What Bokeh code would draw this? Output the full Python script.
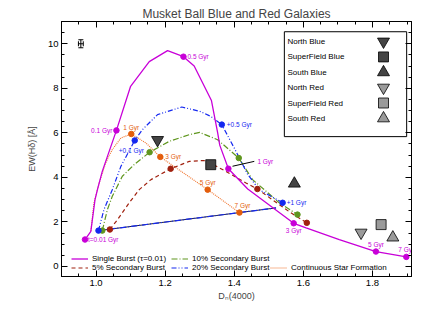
from bokeh.plotting import figure
from bokeh.models import (Range1d, LinearAxis, FixedTicker, Legend, LegendItem,
                          Whisker, ColumnDataSource, TeeHead, NumeralTickFormatter,
                          CustomJSTickFormatter)
from bokeh.core.properties import value
from bokeh.embed import file_html
from bokeh.resources import INLINE

FONT = "Liberation Sans"

# ---------------- data ----------------
# Single burst (tau = 0.01) track
sb_x = [0.968, 0.985, 0.997, 1.004, 1.018, 1.059, 1.100, 1.154, 1.207, 1.253,
        1.284, 1.334, 1.352, 1.358, 1.383, 1.439, 1.572, 1.608, 1.704, 1.810, 1.898]
sb_y = [1.21, 1.58, 3.00, 3.45, 4.27, 6.11, 8.09, 9.20, 9.69, 9.42,
        9.00, 7.45, 6.00, 5.45, 4.39, 3.48, 1.94, 1.73, 1.21, 0.67, 0.43]
sb_mark = [0, 5, 9, 14, 16, 19, 20]
sb_lab = ["t=0.01 Gyr", "0.1 Gyr", "0.5 Gyr", "1 Gyr", "3 Gyr", "5 Gyr", "7 Gyr"]

# 20% secondary burst track
b20_x = [1.007, 1.023, 1.047, 1.072, 1.112, 1.134, 1.178, 1.248, 1.300, 1.332,
         1.364, 1.405, 1.439, 1.472, 1.540]
b20_y = [1.61, 2.56, 3.45, 4.50, 5.66, 6.14, 6.82, 7.16, 6.97, 6.74,
         6.37, 5.17, 4.13, 3.45, 2.86]
b20_mark = [0, 4, 10, 14]
b20_lab = ["", "+0.1 Gyr", "+0.5 Gyr", "+1 Gyr"]

# 10% secondary burst track
b10_x = [1.018, 1.033, 1.047, 1.076, 1.110, 1.155, 1.212, 1.270, 1.300, 1.352,
         1.413, 1.453, 1.492, 1.530, 1.583]
b10_y = [1.61, 2.56, 3.15, 4.05, 4.57, 5.13, 5.62, 5.92, 6.02, 5.69,
         4.87, 3.90, 3.38, 2.86, 2.33]
b10_mark = [0, 5, 10, 14]

# 5% secondary burst track
b5_x = [1.040, 1.062, 1.096, 1.125, 1.159, 1.216, 1.270, 1.300, 1.318, 1.376,
        1.434, 1.467, 1.510, 1.560, 1.610]
b5_y = [1.66, 2.10, 2.86, 3.45, 3.90, 4.39, 4.72, 4.75, 4.75, 4.27,
        3.75, 3.48, 3.00, 2.45, 1.96]
b5_mark = [0, 5, 11, 14]

# Continuous star formation track
csf_x = [0.985, 0.994, 1.009, 1.028, 1.047, 1.072, 1.102, 1.144, 1.186, 1.323, 1.415]
csf_y = [1.60, 2.86, 3.75, 4.65, 5.25, 5.77, 5.95, 5.55, 4.92, 3.45, 2.42]
csf_mark = [6, 8, 9, 10]
csf_lab = ["1 Gyr", "3 Gyr", "5 Gyr", "7 Gyr"]

# straight connecting line (late-time track)
link_x = [1.007, 1.521]
link_y = [1.61, 2.63]

# pointer for the single-burst "1 Gyr" label
ptr_x = [1.395, 1.458]
ptr_y = [4.50, 4.72]

# observed galaxy samples
gal_names = ["North Blue", "SuperField Blue", "South Blue",
             "North Red", "SuperField Red", "South Red"]
gal_x = [1.178, 1.332, 1.574, 1.767, 1.825, 1.859]
gal_y = [5.68, 4.57, 3.72, 1.52, 1.88, 1.30]
gal_marker = ["inverted_triangle", "square", "triangle",
              "inverted_triangle", "square", "triangle"]
gal_color = ["#444444", "#444444", "#444444", "#9a9a9a", "#9a9a9a", "#9a9a9a"]
gal_size = [12, 10, 12, 12, 10, 12]

# typical error bar
err_x = [0.956]
err_y = [10.0]
err_dx = [0.007]
err_dy = [0.18]

x_ticks = [1.0, 1.2, 1.4, 1.6, 1.8]
y_ticks = [0, 2, 4, 6, 8, 10]

# ---------------- styling ----------------
C_SB = "#c800d8"
C_B20 = "#1428f0"
C_B10 = "#5f961e"
C_B5 = "#a0200e"
C_CSF = "#f07028"
C_CSF_PT = "#e35d0c"

p = figure(width=417, height=318, output_backend="svg", toolbar_location=None,
           x_range=Range1d(0.9, 1.913), y_range=Range1d(-0.45, 11.0),
           min_border_left=61, min_border_right=6, min_border_top=21,
           min_border_bottom=42)
p.xgrid.visible = False
p.ygrid.visible = False
p.outline_line_color = "black"
p.outline_line_width = 1
p.background_fill_color = "white"
p.border_fill_color = "white"

p.title.text = "Musket Ball Blue and Red Galaxies"
p.title.align = "center"
p.title.text_font = FONT
p.title.text_font_size = "12px"
p.title.text_font_style = "normal"
p.title.standoff = 2

xt = FixedTicker(ticks=x_ticks, minor_ticks=[0.9 + 0.05 * i for i in range(21)])
yt = FixedTicker(ticks=y_ticks, minor_ticks=[-0.5 + 0.5 * i for i in range(24)])


def style_axis(ax, ticker, show_labels):
    ax.ticker = ticker
    ax.major_tick_in = 6
    ax.major_tick_out = 0
    ax.minor_tick_in = 3
    ax.minor_tick_out = 0
    ax.axis_line_color = "black"
    ax.major_tick_line_color = "black"
    ax.minor_tick_line_color = "black"
    ax.major_label_text_font = FONT
    ax.major_label_text_color = "black"
    ax.major_label_text_font_size = "9.5px"
    if show_labels:
        ax.major_label_standoff = 3
    else:
        ax.formatter = CustomJSTickFormatter(code="return ''")
        ax.major_label_standoff = 0


xa = p.xaxis[0]
ya = p.yaxis[0]
style_axis(xa, xt, True)
style_axis(ya, yt, True)
xa.formatter = NumeralTickFormatter(format="0.0")
xa.axis_label = "D\u2099(4000)"
ya.axis_label = "EW(H\u03b4) [\u00c5]"
for ax in (xa, ya):
    ax.axis_label_text_font = FONT
    ax.axis_label_text_font_size = "9px"
    ax.axis_label_text_font_style = "normal"
xa.axis_label_standoff = 2
ya.axis_label_standoff = 8

top_ax = LinearAxis()
right_ax = LinearAxis()
style_axis(top_ax, xt, False)
style_axis(right_ax, yt, False)
p.add_layout(top_ax, "above")
p.add_layout(right_ax, "right")

# ---------------- model tracks ----------------
r_link_k = p.line(link_x, link_y, line_color="#202040", line_width=1)
r_link = p.line(link_x, link_y, line_color=C_B20, line_width=1.2, line_dash="6 2 1 2")

r_csf = p.line(csf_x, csf_y, line_color=C_CSF, line_width=1.1, line_dash="1 1")
r_b5 = p.line(b5_x, b5_y, line_color=C_B5, line_width=1.2, line_dash="4 3")
r_b10 = p.line(b10_x, b10_y, line_color=C_B10, line_width=1.2, line_dash="6 2 1 2")
r_b20 = p.line(b20_x, b20_y, line_color=C_B20, line_width=1.2, line_dash="5 2 1 2 1 2")
r_sb = p.line(sb_x, sb_y, line_color=C_SB, line_width=1.3)

p.line(ptr_x, ptr_y, line_color="black", line_width=1)


def pts(xs, ys, idx):
    return [xs[i] for i in idx], [ys[i] for i in idx]


for xs, ys, idx, col in [(csf_x, csf_y, csf_mark, C_CSF_PT),
                         (b5_x, b5_y, b5_mark, C_B5),
                         (b10_x, b10_y, b10_mark, C_B10),
                         (b20_x, b20_y, b20_mark, C_B20),
                         (sb_x, sb_y, sb_mark, C_SB)]:
    px, py = pts(xs, ys, idx)
    p.scatter(px, py, size=5.5, marker="circle", fill_color=col, line_color=col)


# age labels
def add_labels(xs, ys, idx, labels, dx, dy, align, color):
    px, py = pts(xs, ys, idx)
    keep = [k for k in range(len(labels)) if labels[k]]
    src = ColumnDataSource(dict(x=[px[k] for k in keep], y=[py[k] for k in keep],
                                t=[labels[k] for k in keep], dx=[dx[k] for k in keep],
                                dy=[dy[k] for k in keep], a=[align[k] for k in keep]))
    p.text(x="x", y="y", text="t", x_offset="dx", y_offset="dy", text_align="a",
           source=src, text_baseline="middle", text_color=color,
           text_font=value(FONT), text_font_size="6.5px")


add_labels(sb_x, sb_y, sb_mark, sb_lab,
           [3, -4, 4, 29, 0, 0, 0], [0, 0, 0, -7, 7, -7, -7],
           ["left", "right", "left", "left", "center", "center", "center"], C_SB)
add_labels(b20_x, b20_y, b20_mark, b20_lab,
           [0, -16, 5, 4], [0, 10, 0, 0], ["left", "left", "left", "left"], C_B20)
add_labels(csf_x, csf_y, csf_mark, csf_lab,
           [0, 5, 0, 3], [-6, 0, -7, -7], ["center", "left", "center", "center"], C_CSF_PT)

# ---------------- observed galaxies ----------------
for i in range(len(gal_names)):
    p.scatter([gal_x[i]], [gal_y[i]], marker=gal_marker[i], size=gal_size[i],
              fill_color=gal_color[i], line_color="black", line_width=0.8)

# error bar
esrc = ColumnDataSource(dict(x=err_x, y=err_y,
                             xl=[a - b for a, b in zip(err_x, err_dx)],
                             xu=[a + b for a, b in zip(err_x, err_dx)],
                             yl=[a - b for a, b in zip(err_y, err_dy)],
                             yu=[a + b for a, b in zip(err_y, err_dy)]))
p.add_layout(Whisker(base="x", lower="yl", upper="yu", dimension="height", source=esrc,
                     line_color="black", line_width=1,
                     upper_head=TeeHead(size=5, line_color="black"),
                     lower_head=TeeHead(size=5, line_color="black")))
p.add_layout(Whisker(base="y", lower="xl", upper="xu", dimension="width", source=esrc,
                     line_color="black", line_width=1,
                     upper_head=TeeHead(size=5, line_color="black"),
                     lower_head=TeeHead(size=5, line_color="black")))

# ---------------- sample legend box (top right) ----------------
box_l, box_r, box_b, box_t = 1.545, 1.899, 5.83, 10.54
p.quad(left=[box_l], right=[box_r], bottom=[box_b], top=[box_t],
       fill_color="white", line_color="black", line_width=1)
row_y = [10.10 - 0.69 * i for i in range(len(gal_names))]
p.text(x=[1.554] * len(gal_names), y=row_y, text=gal_names, text_baseline="middle",
       text_align="left", text_color="black", text_font=value(FONT),
       text_font_size="8px")
for i in range(len(gal_names)):
    p.scatter([1.832], [row_y[i]], marker=gal_marker[i], size=gal_size[i],
              fill_color=gal_color[i], line_color="black", line_width=0.8)


# ---------------- model legend (bottom) ----------------
def make_legend(items, loc):
    leg = Legend(items=items, location=loc, orientation="vertical")
    leg.label_text_font = FONT
    leg.label_text_font_size = "8px"
    leg.label_text_color = "black"
    leg.glyph_width = 17
    leg.glyph_height = 9
    leg.label_height = 9
    leg.label_standoff = 4
    leg.spacing = 0
    leg.padding = 0
    leg.margin = 0
    leg.border_line_alpha = 0
    leg.background_fill_alpha = 0
    p.add_layout(leg)


make_legend([LegendItem(label="Single Burst (\u03c4=0.01)", renderers=[r_sb]),
             LegendItem(label="5% Secondary Burst", renderers=[r_b5])], (10, 4))
make_legend([LegendItem(label="10% Secondary Burst", renderers=[r_b10]),
             LegendItem(label="20% Secondary Burst", renderers=[r_b20])], (110, 4))
make_legend([LegendItem(label="Continuous Star Formation", renderers=[r_csf])], (209, 4))

open("out.html", "w").write(file_html(p, INLINE))
